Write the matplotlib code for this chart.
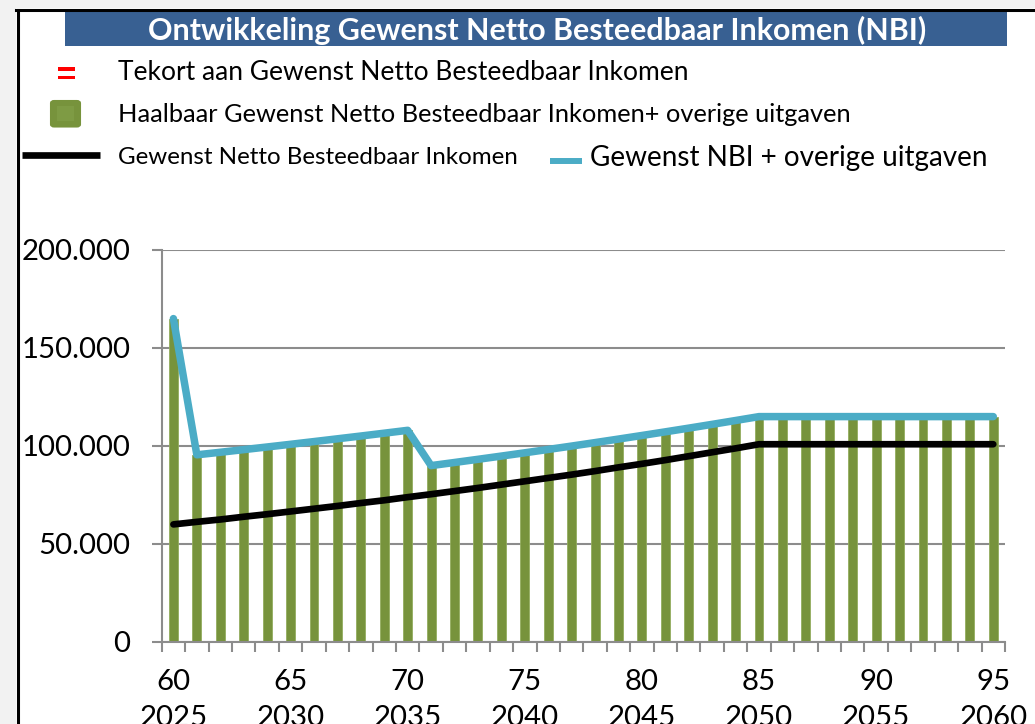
import matplotlib
matplotlib.use("Agg")
import matplotlib.pyplot as plt
from matplotlib.patches import Rectangle, FancyBboxPatch
from matplotlib.lines import Line2D
from matplotlib.ticker import FuncFormatter, FixedLocator

ages = list(range(60, 96))
years = list(range(2025, 2061))

haalbaar = [165000, 95500, 96800, 98150, 99500, 100870, 102260, 103670, 105090, 106540,
            108000, 90000, 91590, 93210, 94860, 96530, 98240, 99970, 101740, 103540,
            105370, 107230, 109120, 111050, 113010, 115000, 115000, 115000, 115000, 115000,
            115000, 115000, 115000, 115000, 115000, 115000]
tekort = [0] * 36
nbi_plus = list(haalbaar)
nbi = [60000, 61300, 62500, 63900, 65200, 66600, 68000, 69400, 70900, 72300,
       73900, 75400, 77000, 78600, 80300, 82000, 83700, 85400, 87200, 89100,
       90900, 92800, 94800, 96800, 98800, 100900, 100900, 100900, 100900, 100900,
       100900, 100900, 100900, 100900, 100900, 100900]

title = "Ontwikkeling Gewenst Netto Besteedbaar Inkomen (NBI)"
leg_tekort = "Tekort aan Gewenst Netto Besteedbaar Inkomen"
leg_haalbaar = "Haalbaar Gewenst Netto Besteedbaar Inkomen+ overige uitgaven"
leg_nbi = "Gewenst Netto Besteedbaar Inkomen"
leg_nbi_plus = "Gewenst NBI + overige uitgaven"

FONT = "Lato"
plt.rcParams['font.family'] = [FONT, 'DejaVu Sans']

W, H = 1035, 724
fig = plt.figure(figsize=(W / 100, H / 100), dpi=100)
fig.patch.set_facecolor("white")

def fx(px):
    return px / W

def fy(py):
    return 1 - py / H

# outer gray strips and black border
fig.patches.append(Rectangle((0, fy(8)), 1, 8 / H, transform=fig.transFigure,
                             facecolor="#f2f2f2", edgecolor="none", zorder=0))
fig.patches.append(Rectangle((0, 0), fx(16), 1, transform=fig.transFigure,
                             facecolor="#f2f2f2", edgecolor="none", zorder=0))
fig.lines.append(Line2D([fx(16), 1], [fy(9.5), fy(9.5)], transform=fig.transFigure,
                        color="black", lw=2.2))
fig.lines.append(Line2D([fx(17.5), fx(17.5)], [0, fy(9.5)], transform=fig.transFigure,
                        color="black", lw=2.2))

# title bar
fig.patches.append(Rectangle((fx(65), fy(46)), fx(1007) - fx(65), 34 / H,
                             transform=fig.transFigure, facecolor="#386092",
                             edgecolor="none", zorder=1))
fig.text(fx(537), fy(30), title, color="white", fontsize=21.9, fontweight="bold",
         ha="center", va="center", zorder=2)

# legend
fig.patches.append(Rectangle((fx(58), fy(70.7)), 17 / W, 3.5 / H, transform=fig.transFigure,
                             facecolor="#ff0000", edgecolor="none"))
fig.patches.append(Rectangle((fx(58), fy(79.3)), 17 / W, 3.5 / H, transform=fig.transFigure,
                             facecolor="#ff0000", edgecolor="none"))
fig.text(fx(118), fy(73), leg_tekort, fontsize=19.0, ha="left", va="center", color="black")

fig.patches.append(FancyBboxPatch((fx(51), fy(126.5)), 29 / W, 25.5 / H,
                                  boxstyle="round,pad=0,rounding_size=0.003",
                                  transform=fig.transFigure, facecolor="#77933C",
                                  edgecolor="#77933C", lw=1.5))
fig.patches.append(Rectangle((fx(57), fy(121)), 17 / W, 15 / H, transform=fig.transFigure,
                             facecolor="#7e9b44", edgecolor="none"))
fig.text(fx(118), fy(114), leg_haalbaar, fontsize=18.3, ha="left", va="center", color="black")

fig.lines.append(Line2D([fx(22), fx(100)], [fy(155), fy(155)], transform=fig.transFigure,
                        color="black", lw=4.8, solid_capstyle="butt"))
fig.text(fx(118), fy(157), leg_nbi, fontsize=17.4, ha="left", va="center", color="black")

fig.lines.append(Line2D([fx(550), fx(582)], [fy(161), fy(161)], transform=fig.transFigure,
                        color="#4BACC6", lw=4.3, solid_capstyle="butt"))
fig.text(fx(590), fy(158), leg_nbi_plus, fontsize=20.1, ha="left", va="center", color="black")

# axes
ax = fig.add_axes([fx(161.7), fy(642), fx(1005) - fx(161.7), (642 - 250) / H])
ax.set_facecolor("none")
x = list(range(len(ages)))
ax.bar(x, haalbaar, width=0.38, color="#77933C", edgecolor="#93ad5e", linewidth=0.6, zorder=2)
ax.bar(x, tekort, width=0.38, bottom=haalbaar, color="#ff0000", linewidth=0, zorder=2)
ax.plot(x, nbi, color="black", lw=4.8, solid_capstyle="round", solid_joinstyle="round", zorder=3)
ax.plot(x, nbi_plus, color="#4BACC6", lw=5.4, solid_capstyle="round", solid_joinstyle="round", zorder=4)

ax.set_xlim(-0.5, len(ages) - 0.5)
ax.set_ylim(0, 200000)
grid_c = "#8c8c8c"
ax.set_yticks([0, 50000, 100000, 150000, 200000])
ax.yaxis.set_major_formatter(FuncFormatter(lambda v, p: "0" if v == 0 else f"{int(v):,}".replace(",", ".")))
ax.grid(axis="y", color=grid_c, lw=1.5, zorder=0)
ax.set_axisbelow(True)
for s in ["top", "right"]:
    ax.spines[s].set_visible(False)
for s in ["left", "bottom"]:
    ax.spines[s].set_color(grid_c)
    ax.spines[s].set_linewidth(1.5)
ax.spines["bottom"].set_zorder(5)
ax.tick_params(axis="y", length=7.5, width=1.5, color=grid_c, pad=15, labelsize=21.2)

label_pos = [i for i, a in enumerate(ages) if (a - 60) % 5 == 0]
ax.set_xticks(label_pos)
ax.set_xticklabels([f"{ages[i]}\n{years[i]}" for i in label_pos], linespacing=1.45)
ax.xaxis.set_minor_locator(FixedLocator([i - 0.5 for i in range(len(ages) + 1)]))
ax.tick_params(axis="x", which="major", length=0, pad=19.5, labelsize=21.2)
ax.tick_params(axis="x", which="minor", length=7, width=1.5, color=grid_c)
for lbl in ax.get_xticklabels():
    lbl.set_va("top")

fig.savefig("out.png", dpi=100)
